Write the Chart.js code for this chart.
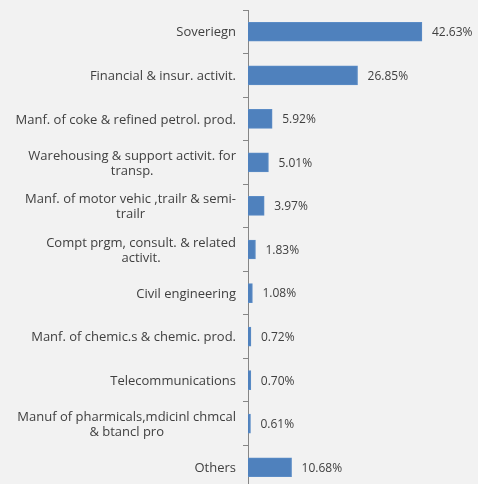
<!DOCTYPE html>
<html>
<head>
<meta charset="utf-8">
<script src="https://cdn.jsdelivr.net/npm/chart.js@4"></script>
<style>
  html, body { margin: 0; padding: 0; background: #f2f2f2; overflow: hidden; }
  .wrap { width: 478px; height: 489px; }
</style>
</head>
<body>
<div class="wrap"><canvas class="chart"></canvas></div>
<script>
const sectors = [
    'Soveriegn',
    'Financial & insur. activit.',
    'Manf. of coke & refined petrol. prod.',
    ['Warehousing & support activit. for', 'transp.'],
    ['Manf. of motor vehic ,trailr & semi-', 'trailr'],
    ['Compt prgm, consult. & related', 'activit.'],
    'Civil engineering',
    'Manf. of chemic.s & chemic. prod.',
    'Telecommunications',
    ['Manuf of pharmicals,mdicinl chmcal', '& btancl pro'],
    'Others'
];
const shares = [42.63, 26.85, 5.92, 5.01, 3.97, 1.83, 1.08, 0.72, 0.70, 0.61, 10.68];

const labelFont = '"Open Sans", sans-serif';

// category labels: block right-aligned against the axis, lines centred in the block
const categoryLabels = {
    id: 'categoryLabels',
    afterDraw(chart) {
        const c = chart.ctx;
        const yScale = chart.scales.y;
        const right = yScale.right - 12;
        c.save();
        c.font = '13px ' + labelFont;
        c.fillStyle = '#404040';
        c.textBaseline = 'middle';
        c.textAlign = 'left';
        sectors.forEach((lab, i) => {
            const lines = Array.isArray(lab) ? lab : [lab];
            const widths = lines.map(l => c.measureText(l).width);
            const w = Math.max(...widths);
            const y0 = yScale.getPixelForValue(i) - (lines.length - 1) * 15 / 2;
            lines.forEach((l, j) => {
                const x = right - w / 2 - widths[j] / 2;
                c.fillText(l, x, y0 + j * 15 + 1);
            });
        });
        c.restore();
    }
};

const valueLabels = {
    id: 'valueLabels',
    afterDatasetsDraw(chart) {
        const c = chart.ctx;
        const meta = chart.getDatasetMeta(0);
        c.save();
        c.font = '12px ' + labelFont;
        c.fillStyle = '#404040';
        c.textBaseline = 'middle';
        c.textAlign = 'left';
        meta.data.forEach((bar, i) => {
            c.fillText(shares[i].toFixed(2) + '%', bar.x + 10, bar.y + 1);
        });
        c.restore();
    }
};

const ctx = document.getElementsByClassName('chart')[0].getContext('2d');
const sectorChart = new Chart(ctx, {
    type: 'bar',
    data: {
        labels: sectors,
        datasets: [{
            data: shares,
            backgroundColor: '#4f81bd',
            borderColor: '#5b8cc6',
            borderWidth: 1,
            barThickness: 19
        }]
    },
    options: {
        indexAxis: 'y',
        responsive: true,
        maintainAspectRatio: false,
        animation: false,
        layout: { padding: { top: 10, right: 26, bottom: 0, left: 0 } },
        plugins: {
            legend: { display: false },
            tooltip: { enabled: false }
        },
        scales: {
            x: {
                display: false,
                min: 0,
                max: 50
            },
            y: {
                afterFit(scale) { scale.width = 248; },
                border: { display: true, color: '#868686', width: 1 },
                grid: {
                    drawOnChartArea: false,
                    drawTicks: true,
                    tickLength: 5,
                    color: '#868686',
                    offset: true
                },
                ticks: { display: false }
            }
        }
    },
    plugins: [valueLabels, categoryLabels]
});
</script>
</body>
</html>
